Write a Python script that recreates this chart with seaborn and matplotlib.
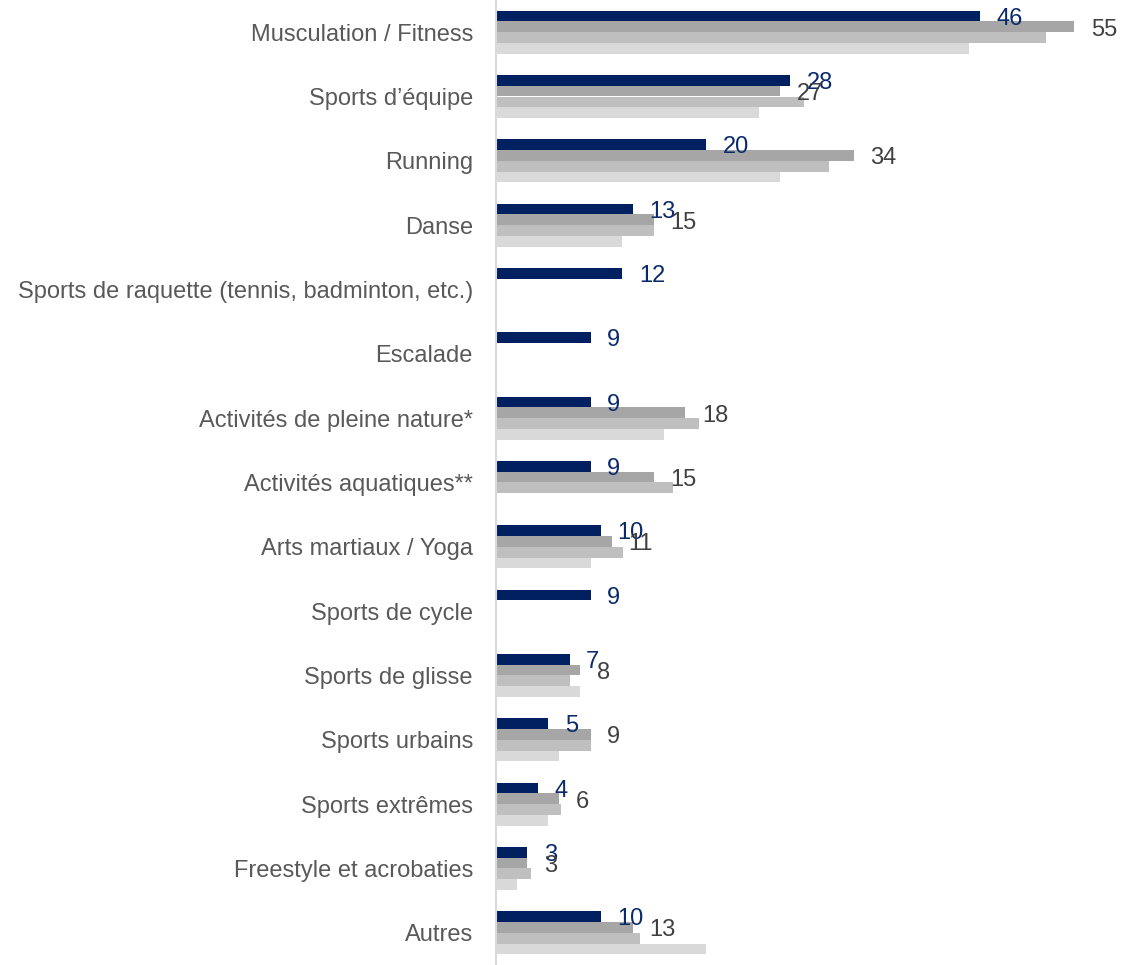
import numpy as np
import pandas as pd
import matplotlib
matplotlib.use("Agg")
import matplotlib.pyplot as plt
import seaborn as sns

categories = [
    "Musculation / Fitness",
    "Sports d\u2019équipe",
    "Running",
    "Danse",
    "Sports de raquette (tennis, badminton, etc.)",
    "Escalade",
    "Activités de pleine nature*",
    "Activités aquatiques**",
    "Arts martiaux / Yoga",
    "Sports de cycle",
    "Sports de glisse",
    "Sports urbains",
    "Sports extrêmes",
    "Freestyle et acrobaties",
    "Autres",
]

series_names = ["Série 1", "Série 2", "Série 3", "Série 4"]

serie_1 = [46, 28, 20, 13, 12, 9, 9, 9, 10, 9, 7, 5, 4, 3, 10]
serie_2 = [55, 27, 34, 15, np.nan, np.nan, 18, 15, 11, np.nan, 8, 9, 6, 3, 13]
serie_3 = [52.3, 29.3, 31.7, 15, np.nan, np.nan, 19.3, 16.8, 12.1, np.nan, 7, 9, 6.2, 3.3, 13.7]
serie_4 = [45, 25, 27, 12, np.nan, np.nan, 16, np.nan, 9, np.nan, 8, 6, 5, 2, 20]

labelled = {"Série 1": "#0B2A6B", "Série 2": "#404040"}
palette = ["#002060", "#A6A6A6", "#BFBFBF", "#D9D9D9"]

rows = []
for name, vals in zip(series_names, [serie_1, serie_2, serie_3, serie_4]):
    for cat, v in zip(categories, vals):
        rows.append({"categorie": cat, "serie": name, "valeur": v})
df = pd.DataFrame(rows)

sns.set_style("white")
plt.rcParams["font.family"] = ["Liberation Sans", "DejaVu Sans"]

fig = plt.figure(figsize=(11.27, 9.65), dpi=100)
ax = fig.add_axes([0.44, 0.0, 0.56, 1.0])

sns.barplot(
    data=df, y="categorie", x="valeur", hue="serie",
    order=categories, hue_order=series_names, palette=palette,
    orient="h", width=0.67, dodge=True, legend=False, ax=ax,
    saturation=1.0, errorbar=None, linewidth=0, edgecolor="none",
)

ax.set_xlim(0, 60)
ax.set_ylim(len(categories) - 0.5, -0.5)
ax.set_xlabel("")
ax.set_ylabel("")
ax.set_xticks([])
ax.tick_params(axis="y", length=0, pad=16.5, labelsize=17, labelcolor="#595959")

for side in ["top", "right", "bottom"]:
    ax.spines[side].set_visible(False)
ax.spines["left"].set_color("#D9D9D9")
ax.spines["left"].set_linewidth(1.5)

# value labels on the first two series
for name, container in zip(series_names, ax.containers):
    if name not in labelled:
        continue
    for bar in container:
        w = bar.get_width()
        if not np.isfinite(w) or w == 0:
            continue
        yc = bar.get_y() + bar.get_height() / 2
        ax.annotate(
            f"{w:.0f}", xy=(w, yc), xytext=(12, -2), textcoords="offset points",
            ha="left", va="center", fontsize=17, color=labelled[name],
        )

fig.savefig("out.png", dpi=100)
